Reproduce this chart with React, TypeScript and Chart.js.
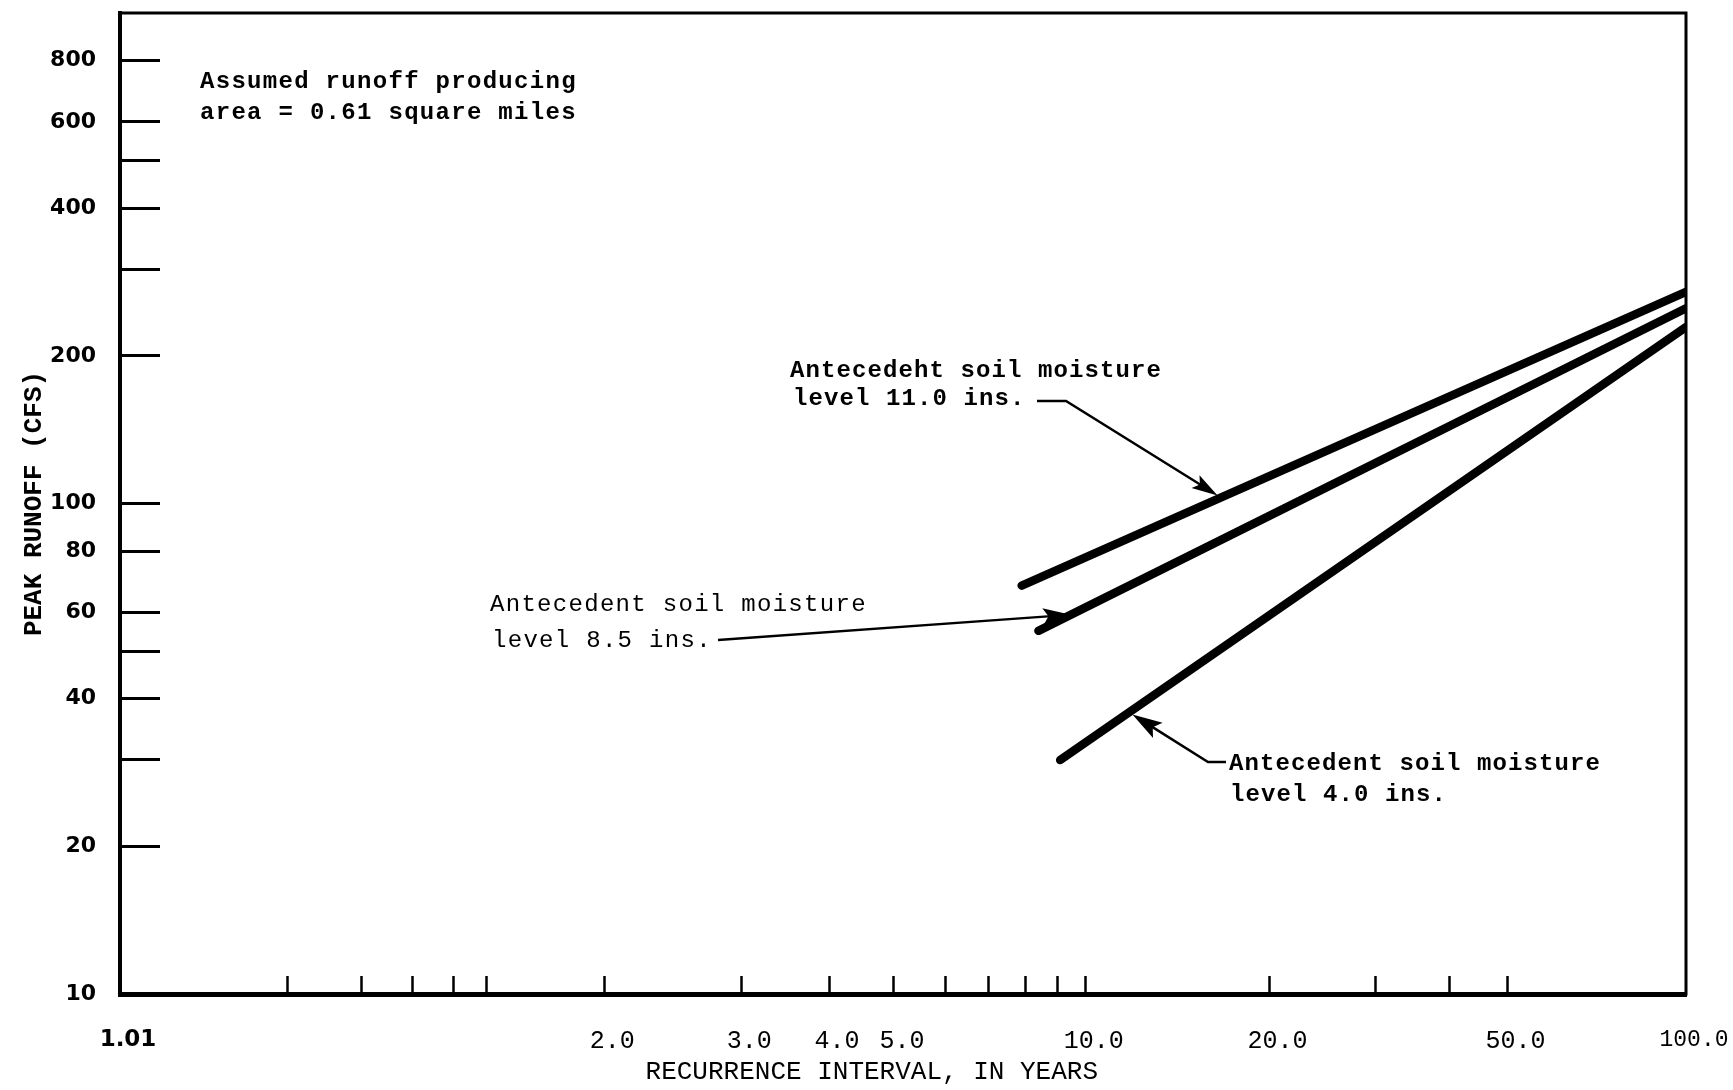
import React, { useEffect, useRef } from 'react';
import {
  Chart,
  LineController,
  LineElement,
  PointElement,
  LinearScale,
  LogarithmicScale,
} from 'chart.js';

// Recurrence interval axis (years), probability-paper spacing
const RI_TICKS = [1.01, 1.1, 1.2, 1.3, 1.4, 1.5, 2, 3, 4, 5, 6, 7, 8, 9, 10, 20, 30, 40, 50, 100];
const RI_TICK_LABELS = ['1.01', '', '', '', '', '', '2.0', '3.0', '4.0', '5.0', '', '', '', '', '10.0', '20.0', '', '', '50.0', '100.0'];

// Peak runoff axis (cfs), logarithmic
const Q_TICKS = [10, 20, 30, 40, 50, 60, 80, 100, 200, 300, 400, 500, 600, 800];
const Q_TICK_LABELS = ['10', '20', '', '40', '', '60', '80', '100', '200', '', '400', '', '600', '800'];

// Antecedent soil moisture curves: recurrence interval (years) and peak runoff (cfs)
const RI_MOIST_11_0 = [7.9, 100];
const Q_MOIST_11_0 = [68, 270];
const RI_MOIST_8_5 = [8.4, 100];
const Q_MOIST_8_5 = [55, 250];
const RI_MOIST_4_0 = [9.1, 100];
const Q_MOIST_4_0 = [30, 229];

const SERIES = [
  { name: 'Antecedent soil moisture level 11.0 ins.', ri: RI_MOIST_11_0, q: Q_MOIST_11_0 },
  { name: 'Antecedent soil moisture level 8.5 ins.', ri: RI_MOIST_8_5, q: Q_MOIST_8_5 },
  { name: 'Antecedent soil moisture level 4.0 ins.', ri: RI_MOIST_4_0, q: Q_MOIST_4_0 },
];

// Extreme-value (Gumbel) reduced variate for a recurrence interval T
const gumbelVariate = (t: number) => -Math.log(-Math.log(1 - 1 / t));

class GumbelScale extends LinearScale {
  static id = 'gumbel';
  static defaults = {};

  buildTicks() {
    return RI_TICKS.filter((v) => v >= this.min && v <= this.max).map((value) => ({ value }));
  }

  getPixelForValue(value: number) {
    if (value === null || value === undefined || !isFinite(value)) return NaN;
    const g0 = gumbelVariate(this.min);
    const g1 = gumbelVariate(this.max);
    return this.getPixelForDecimal((gumbelVariate(value) - g0) / (g1 - g0));
  }

  getValueForPixel(pixel: number) {
    const g0 = gumbelVariate(this.min);
    const g1 = gumbelVariate(this.max);
    const g = g0 + this.getDecimalForPixel(pixel) * (g1 - g0);
    return 1 / (1 - Math.exp(-Math.exp(-g)));
  }
}

Chart.register(LineController, LineElement, PointElement, LinearScale, LogarithmicScale, GumbelScale);

type Pt = [number, number];
type Note = {
  lines: { text: string; at: Pt }[];
  font: string;
  spacing: number;
  leader?: { series: number; frac: number; path: Pt[]; head: [number, number]; inset: number };
};

// Callout placement, offsets from the plot area's top-left corner
const NOTES: Note[] = [
  {
    lines: [
      { text: 'Assumed runoff producing', at: [80, 75] },
      { text: 'area = 0.61 square miles', at: [80, 106] },
    ],
    font: 'bold 24px "Liberation Mono"',
    spacing: 1.3,
  },
  {
    lines: [
      { text: 'Antecedeht soil moisture', at: [670, 364] },
      { text: 'level 11.0 ins.', at: [673, 392] },
    ],
    font: 'bold 24px "Liberation Mono"',
    spacing: 1.1,
    leader: { series: 0, frac: 0.3, path: [[917, 388], [946, 388]], head: [26, 15], inset: 4 },
  },
  {
    lines: [
      { text: 'Antecedent soil moisture', at: [370, 598] },
      { text: 'level 8.5 ins.', at: [372, 634] },
    ],
    font: '24px "Liberation Mono"',
    spacing: 1.3,
    leader: { series: 1, frac: 0.05, path: [[598, 627]], head: [28, 17], inset: 0 },
  },
  {
    lines: [
      { text: 'Antecedent soil moisture', at: [1109, 757] },
      { text: 'level 4.0 ins.', at: [1110, 788] },
    ],
    font: 'bold 24px "Liberation Mono"',
    spacing: 1.1,
    leader: { series: 2, frac: 0.11, path: [[1106, 749], [1088, 749]], head: [30, 18], inset: 4 },
  },
];

const framePlugin = {
  id: 'frameAndNotes',
  afterDraw(chart: any) {
    const { ctx, chartArea: ca } = chart;
    ctx.save();

    // top and right edges of the plot frame
    ctx.strokeStyle = '#000';
    ctx.lineWidth = 3;
    ctx.lineCap = 'square';
    ctx.beginPath();
    ctx.moveTo(ca.left, ca.top);
    ctx.lineTo(ca.right, ca.top);
    ctx.lineTo(ca.right, ca.bottom);
    ctx.stroke();

    ctx.fillStyle = '#000';
    ctx.textBaseline = 'alphabetic';
    ctx.textAlign = 'left';

    for (const note of NOTES) {
      ctx.font = note.font;
      (ctx as any).letterSpacing = `${note.spacing}px`;
      for (const line of note.lines) {
        ctx.fillText(line.text, ca.left + line.at[0], ca.top + line.at[1]);
      }
      (ctx as any).letterSpacing = '0px';

      if (note.leader) {
        const L = note.leader;
        const pts = chart.getDatasetMeta(L.series).data;
        const a = pts[0];
        const b = pts[pts.length - 1];
        const on = { x: a.x + (b.x - a.x) * L.frac, y: a.y + (b.y - a.y) * L.frac };
        const path = L.path.map(([x, y]) => ({ x: ca.left + x, y: ca.top + y }));
        const last = path[path.length - 1];
        const ang = Math.atan2(on.y - last.y, on.x - last.x);
        const tip = { x: on.x - Math.cos(ang) * L.inset, y: on.y - Math.sin(ang) * L.inset };

        ctx.lineWidth = 2.5;
        ctx.lineCap = 'butt';
        ctx.beginPath();
        ctx.moveTo(path[0].x, path[0].y);
        for (let i = 1; i < path.length; i++) ctx.lineTo(path[i].x, path[i].y);
        const [len, wid] = L.head;
        ctx.lineTo(tip.x - Math.cos(ang) * len * 0.7, tip.y - Math.sin(ang) * len * 0.7);
        ctx.stroke();

        const cos = Math.cos(ang);
        const sin = Math.sin(ang);
        const bx = tip.x - cos * len;
        const by = tip.y - sin * len;
        const nx = tip.x - cos * len * 0.8;
        const ny = tip.y - sin * len * 0.8;
        ctx.beginPath();
        ctx.moveTo(tip.x, tip.y);
        ctx.lineTo(bx - sin * (wid / 2), by + cos * (wid / 2));
        ctx.lineTo(nx, ny);
        ctx.lineTo(bx + sin * (wid / 2), by - cos * (wid / 2));
        ctx.closePath();
        ctx.fill();
      }
    }
    ctx.restore();
  },
};

// Fix each axis box to a set size and drop the label overhang padding
const fixBox = (size: { width?: number; height?: number }) => (s: any) => {
  if (size.width !== undefined) s.width = size.width;
  if (size.height !== undefined) s.height = size.height;
  s.paddingTop = 0;
  s.paddingBottom = 0;
  s.paddingLeft = 0;
  s.paddingRight = 0;
};

export default function App() {
  const canvasRef = useRef<HTMLCanvasElement | null>(null);

  useEffect(() => {
    const canvas = canvasRef.current;
    if (!canvas) return;

    const chart = new Chart(canvas, {
      type: 'line',
      data: {
        datasets: SERIES.map((s) => ({
          label: s.name,
          data: s.ri.map((x, i) => ({ x, y: s.q[i] })),
          borderColor: '#000',
          backgroundColor: '#000',
          borderWidth: 8.5,
          borderCapStyle: 'round',
          pointRadius: 0,
          pointHoverRadius: 0,
          fill: false,
          tension: 0,
        })),
      },
      options: {
        animation: false,
        responsive: true,
        maintainAspectRatio: false,
        events: [],
        layout: { padding: { left: 0, top: 13, right: 47, bottom: 0 } },
        scales: {
          x: {
            type: 'gumbel' as any,
            min: 1.01,
            max: 100,
            afterFit: fixBox({ height: 96 }),
            border: { display: true, color: '#000', width: 5 },
            grid: {
              drawOnChartArea: false,
              drawTicks: true,
              tickLength: -18,
              tickWidth: 2.5,
              tickColor: (c: any) =>
                c.index === 0 || c.index === RI_TICKS.length - 1 ? 'rgba(0,0,0,0)' : '#000',
            },
            ticks: {
              autoSkip: false,
              maxRotation: 0,
              minRotation: 0,
              padding: 50,
              labelOffset: 8,
              color: '#000',
              font: (c: any) => {
                if (c.index === 0) return { family: '"DejaVu Sans"', weight: 'bold', size: 23 };
                if (c.index === RI_TICKS.length - 1) return { family: '"Liberation Mono"', size: 23 };
                return { family: '"Liberation Mono"', size: 25 };
              },
              callback: (_v: any, i: number) => RI_TICK_LABELS[i],
            },
            title: {
              display: true,
              // trailing spaces nudge the centred title a little to the left
              text: 'RECURRENCE INTERVAL, IN YEARS    ',
              color: '#000',
              font: { family: '"Liberation Mono"', size: 26 },
              padding: { top: 0, bottom: 2 },
            },
          },
          y: {
            type: 'logarithmic',
            min: 10,
            max: 1000,
            afterBuildTicks: (s: any) => {
              s.ticks = Q_TICKS.map((value) => ({ value }));
            },
            afterFit: fixBox({ width: 120 }),
            border: { display: true, color: '#000', width: 4 },
            grid: {
              drawOnChartArea: false,
              drawTicks: true,
              tickLength: -40,
              tickWidth: 3,
              tickColor: (c: any) => (c.index === 0 ? 'rgba(0,0,0,0)' : '#000'),
            },
            ticks: {
              autoSkip: false,
              padding: 64,
              color: '#000',
              font: { family: '"DejaVu Sans"', weight: 'bold', size: 22 },
              callback: (_v: any, i: number) => Q_TICK_LABELS[i],
            },
            title: {
              display: true,
              text: 'PEAK RUNOFF (CFS)',
              color: '#000',
              font: { family: '"Liberation Mono"', weight: 'bold', size: 26 },
              padding: { top: 19, bottom: 0 },
            },
          },
        },
      } as any,
      plugins: [framePlugin],
    });

    return () => chart.destroy();
  }, []);

  return (
    <div
      style={{
        position: 'fixed',
        left: 0,
        top: 0,
        width: '1733px',
        height: '1090px',
        background: '#fff',
      }}
    >
      <canvas ref={canvasRef} />
    </div>
  );
}
